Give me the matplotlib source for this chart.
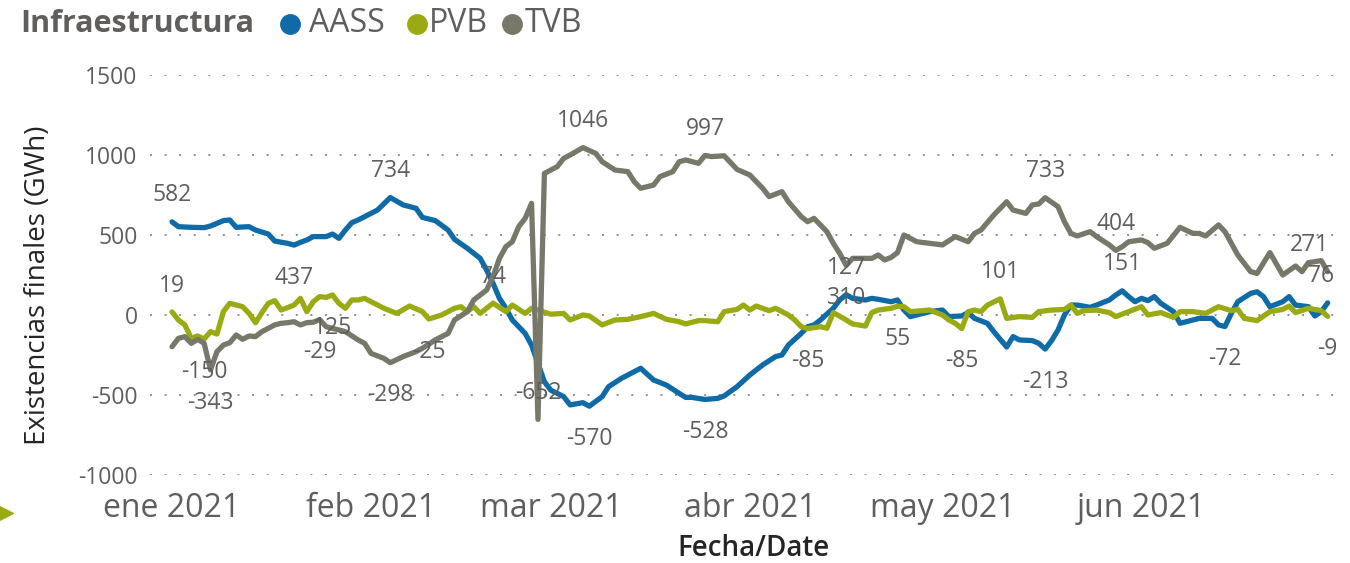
import pandas as pd
import matplotlib
matplotlib.use("Agg")
import matplotlib.pyplot as plt
from matplotlib.lines import Line2D

plt.rcParams['font.family'] = ['Open Sans', 'DejaVu Sans']

# ---------------- data ----------------
start_date = "2021-01-01"

aass_days = [0, 1, 3, 5, 6, 8, 9, 10, 12, 13, 15, 16, 18, 19, 20, 21, 22, 24, 25, 26, 27, 28,
             29, 32, 34, 36, 38, 39, 41, 43, 44, 46, 48, 49, 50, 51, 52, 53, 55, 56, 57, 58, 59,
             61, 62, 64, 65, 67, 68, 70, 72, 73, 75, 77, 79, 80, 81, 83, 85, 86, 88,
             90, 92, 94, 95, 96, 98, 99, 100, 101, 103, 104, 105, 106, 108, 109, 110, 112, 113,
             114, 115, 116, 118, 120, 121, 123, 124, 125, 127, 128, 130, 131, 132, 134, 135, 136,
             137, 138, 139, 140, 141, 143, 144, 146, 147, 148, 149, 150, 151, 152, 153, 154, 156,
             157, 159, 160, 162, 163, 164, 165, 166, 168, 169, 170, 171, 173, 174, 175, 177, 178,
             179, 180]
aass_vals = [582, 552, 548, 546, 556, 590, 594, 548, 552, 531, 506, 462, 448, 437, 454, 469, 490, 490, 506, 479, 531, 577,
             594, 656, 734, 688, 667, 610, 590, 531, 473, 417, 354, 281, 198, 104, 42, -31, -115, -188, -302, -417, -470,
             -510, -562, -548, -570, -510, -448, -396, -354, -333, -406, -438, -490, -515, -515, -528, -521, -506, -448,
             -375, -312, -260, -250, -188, -115, -73, -62, -31, 42, 94, 127, 104, 94, 104, 98, 83, 94,
             31, -10, 0, 21, 31, -10, -6, 15, -21, -52, -104, -200, -135, -156, -160, -177, -213,
             -160, -94, 0, 62, 62, 48, 62, 94, 125, 151, 115, 83, 104, 90, 115, 73, 21,
             -52, -31, -21, -21, -62, -72, 10, 83, 135, 145, 115, 52, 83, 115, 62, 52, -6,
             21, 76]

pvb_days = [0, 1, 2, 3, 4, 5, 6, 7, 8, 9, 11, 12, 13, 14, 15, 16, 17, 19, 20, 21, 22, 23, 24, 25, 26, 27, 28,
            29, 30, 33, 35, 37, 39, 40, 42, 44, 45, 46, 47, 48, 50, 52, 53, 55, 56, 57, 59,
            61, 62, 64, 65, 67, 69, 71, 73, 75, 77, 79, 80, 82, 83, 85, 86, 88,
            89, 90, 91, 93, 94, 96, 97, 98, 99, 101, 102, 103, 105, 106, 108, 109, 110, 112, 113, 114,
            115, 118, 120, 121, 122, 123, 124, 125, 126, 127, 129, 130, 132, 134, 135, 137, 139, 140,
            141, 142, 144, 146, 147, 149, 151, 152, 154, 156, 157, 159, 161, 163, 165, 166, 167, 169,
            171, 173, 174, 175, 177, 179, 180]
pvb_vals = [19, -31, -62, -146, -131, -150, -104, -119, 21, 73, 52, 10, -48, 15, 73, 90, 31, 62, 104, 21, 83, 115, 110, 125, 73, 42, 94,
            94, 104, 42, 10, 56, 21, -25, 0, 42, 52, 21, 52, 10, 74, 21, 62, 10, 42, 31, 5,
            10, -31, 0, -6, -62, -31, -27, -10, 10, -27, -42, -56, -35, -35, -42, 21, 35,
            62, 31, 56, 27, 42, 0, -31, -73, -85, -73, -83, 15, -31, -56, -69, 15, 31, 42, 55, 52,
            21, 31, 0, -31, -52, -85, 21, 31, 21, 62, 101, -21, -10, -15, 21, 31, 35, 62,
            10, 27, 31, 15, -10, 21, 52, 0, 15, -15, 21, 21, 10, 52, 27, 35, -21, -35,
            21, 35, 56, 15, 42, 27, -9]

tvb_days = [0, 1, 2, 3, 4, 5, 6, 7, 8, 9, 10, 11, 12, 13, 14, 16, 17, 18, 19, 20, 21, 22, 23, 24, 26, 27,
            29, 30, 31, 33, 34, 36, 38, 39, 41, 43, 44, 46, 47, 49, 50, 51, 52, 53, 54, 55, 56, 57, 58,
            60, 61, 62, 64, 66, 67, 69, 71, 72, 73, 75, 76, 78, 79, 80, 82, 83, 84, 86, 88,
            90, 91, 92, 93, 95, 96, 98, 99, 100, 102, 103, 104, 105, 106, 108, 109, 110, 111, 112, 113,
            114, 116, 118, 120, 122, 124, 125, 126, 128, 130, 131, 133, 134, 135, 136, 138, 139, 140,
            141, 143, 144, 146, 147, 148, 149, 151, 152, 153, 155, 157, 159, 160, 161, 163, 164, 166,
            168, 169, 171, 173, 175, 176, 177, 179, 180]
tvb_vals = [-198, -146, -135, -177, -152, -177, -343, -229, -188, -173, -125, -152, -131, -135, -104, -62, -52, -48, -42, -62, -48, -45, -29, -73, -94, -104,
            -156, -177, -240, -271, -298, -260, -229, -208, -156, -115, -31, 21, 94, 156, 240, 354, 427, 458, 552, 604, 698, -652, 885,
            927, 979, 1000, 1046, 1010, 958, 906, 896, 833, 792, 812, 865, 896, 958, 969, 948, 997, 990, 995, 910,
            875, 833, 792, 740, 771, 708, 615, 583, 604, 521, 448, 385, 310, 354, 354, 354, 375, 344, 360, 390,
            500, 458, 448, 438, 490, 458, 510, 531, 625, 708, 656, 635, 688, 694, 733, 677, 583, 510,
            494, 521, 490, 438, 404, 427, 458, 469, 452, 417, 448, 548, 510, 510, 494, 563, 521, 375,
            271, 260, 390, 250, 306, 271, 327, 340, 271]

series_names = ["AASS", "PVB", "TVB"]
series_days = [aass_days, pvb_days, tvb_days]
series_vals = [aass_vals, pvb_vals, tvb_vals]
series_colors = ["#0F6BA8", "#9AAA13", "#77776A"]

# data labels (day of the point, and whether the label sits above or below)
label_days = {
    "AASS": [0, 19, 34, 65, 83, 105, 136, 148, 164, 180],
    "PVB": [0, 5, 25, 40, 50, 99, 113, 123, 129, 180],
    "TVB": [6, 23, 34, 57, 64, 83, 105, 136, 147, 180],
}
label_side = {
    "AASS": ["a", "b", "a", "b", "b", "a", "b", "a", "b", "a"],
    "PVB": ["a", "b", "b", "b", "a", "b", "b", "b", "a", "b"],
    "TVB": ["b", "b", "b", "a", "a", "a", "b", "a", "a", "a"],
}

month_starts = ["2021-01-01", "2021-02-01", "2021-03-01", "2021-04-01", "2021-05-01", "2021-06-01"]
month_labels = ["ene 2021", "feb 2021", "mar 2021", "abr 2021", "may 2021", "jun 2021"]
y_ticks = [-1000, -500, 0, 500, 1000, 1500]

# ---------------- figure ----------------
W, H = 1350, 563
TXT = "#605E5C"
fig = plt.figure(figsize=(W / 100, H / 100), dpi=100)
ax = fig.add_axes([150 / W, 1 - 475 / H, 1195 / W, 400 / H])

t0 = pd.Timestamp(start_date)
to_dates = lambda days: [t0 + pd.Timedelta(days=int(d)) for d in days]

for name, d, v, c in zip(series_names, series_days, series_vals, series_colors):
    ax.plot(to_dates(d), v, color=c, lw=3.8, solid_joinstyle="round", solid_capstyle="round", zorder=3)

# labels
for name, d, v in zip(series_names, series_days, series_vals):
    lookup = dict(zip(d, v))
    for day, side in zip(label_days[name], label_side[name]):
        val = lookup[day]
        dy = 19 if side == "a" else -23.5
        dx = 0
        if day == 180 and name == "TVB":
            dx = -13
        elif day == 180 and name == "AASS":
            dx = -5
        ax.annotate(f"{val}", (t0 + pd.Timedelta(days=day), val), xytext=(dx, dy),
                    textcoords="offset points", ha="center", va="center",
                    fontsize=16.5, color=TXT, zorder=5, annotation_clip=False)

ax.set_ylim(-1000, 1500)
ax.set_xlim(t0 - pd.Timedelta(days=3.43), t0 + pd.Timedelta(days=182.7))
ax.set_yticks(y_ticks)
ax.set_yticklabels([str(t) for t in y_ticks])
ax.set_xticks([pd.Timestamp(m) for m in month_starts])
ax.set_xticklabels(month_labels)
ax.tick_params(axis="y", length=0, pad=9, labelsize=16.5, labelcolor=TXT)
ax.tick_params(axis="x", length=0, pad=12, labelsize=23, labelcolor=TXT)
ax.grid(axis="y", linestyle=(0, (1, 6.5)), color="#8f8f8f", lw=1.4)
ax.grid(axis="x", visible=False)
for s in ax.spines.values():
    s.set_visible(False)
ax.set_facecolor("white")

# axis titles
fig.text(753 / W, 1 - 548 / H, "Fecha/Date", ha="center", va="center", fontsize=20,
         fontweight="semibold", color="#252423")
fig.text(38 / W, 1 - 285 / H, "Existencias finales (GWh)", ha="center", va="center",
         rotation=90, fontsize=20, color="#252423")

# title + legend
fig.text(20 / W, 1 - 24 / H, "Infraestructura", ha="left", va="center", fontsize=22,
         fontweight="bold", color=TXT)
leg_x = [(290, 309), (417, 429), (512, 525)]
for (mx, tx), name, c in zip(leg_x, series_names, series_colors):
    fig.add_artist(Line2D([mx / W], [1 - 24 / H], marker="o", markersize=14, color=c, lw=0))
    fig.text(tx / W, 1 - 24 / H, name, ha="left", va="center", fontsize=23, color=TXT)

# small left marker
fig.add_artist(Line2D([3 / W], [1 - 513 / H], marker=">", markersize=15, color="#9AAA13", lw=0))

fig.savefig("out.png", dpi=100)
